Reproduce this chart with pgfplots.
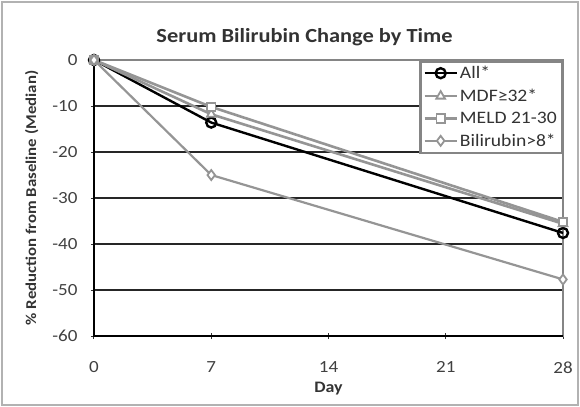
\documentclass[border=0pt]{standalone}
\usepackage{pgfplots}
\pgfplotsset{compat=1.18}
\usepackage{graphicx}
\usepackage{fontspec}
\setmainfont{Carlito}
\definecolor{sgray}{HTML}{959595}
\definecolor{fgray}{HTML}{858585}
\newcommand{\sx}[1]{\scalebox{1.12}[1]{#1}}
\begin{document}
\begin{tikzpicture}[x=1bp,y=1bp]
\useasboundingbox (-94bp,-71bp) rectangle (486bp,336bp);
\draw[line width=1.5bp, color=black!30] (-92bp,-69bp) rectangle (484bp,334bp);
\begin{axis}[
  at={(0,0)}, anchor=south west,
  scale only axis, width=469bp, height=276bp,
  xmin=0, xmax=28, ymin=-60, ymax=0,
  xtick={0,7,14,21,28}, ytick={-60,-50,...,0},
  axis line style={fgray, line width=2bp},
  ymajorgrids, grid style={black!85, line width=1.3bp},
  tick style={black!80, line width=1bp},
  tick align=center, major tick length=6bp,
  xtick pos=bottom, ytick pos=left,
  /pgf/number format/assume math mode=true,
  xticklabel={\sx{\pgfmathprintnumber{\tick}}},
  yticklabel={\sx{\pgfmathprintnumber{\tick}}},
  ticklabel style={font=\fontsize{17bp}{19bp}\selectfont, text=black!75},
  xticklabel style={yshift=-19bp},
  yticklabel style={xshift=-10bp},
  title={\sx{\textbf{Serum Bilirubin Change by Time}}},
  title style={font=\fontsize{20bp}{22bp}\selectfont, text=black!80, yshift=5bp, xshift=-24bp},
  xlabel={\sx{\textbf{Day}}}, ylabel={\sx{\textbf{\% Reduction from Baseline (Median)}}},
  xlabel style={font=\fontsize{16bp}{18bp}\selectfont, text=black!80, yshift=-2bp},
  ylabel style={font=\fontsize{15bp}{17bp}\selectfont, text=black!80, yshift=7bp},
  legend style={at={(1,1)}, anchor=north east, draw=fgray, line width=2.5bp,
    font=\fontsize{17.5bp}{19bp}\selectfont, row sep=5bp, inner xsep=3bp, inner ysep=3bp, text=black!80},
  legend cell align=left,
  legend image code/.code={
    \draw[mark repeat=2,mark phase=2] plot coordinates {(0bp,0bp) (16bp,0bp) (32bp,0bp)};},
  clip=false,
]
\addplot[black, line width=2.4bp, mark=o, mark size=5bp, mark options={fill=white, line width=2.4bp}]
  coordinates {(0,0) (7,-13.6) (28,-37.6)};
\addlegendentry{\sx{All*}}
\addplot[sgray, line width=2.6bp, mark=triangle*, mark size=5bp, mark options={fill=white, line width=1.8bp}]
  coordinates {(0,0) (7,-11.8) (28,-35.6)};
\addlegendentry{\sx{MDF≥32*}}
\addplot[sgray, line width=2.6bp, mark=square*, mark size=4.2bp, mark options={fill=white, line width=1.8bp}]
  coordinates {(0,0) (7,-10.2) (28,-35.2)};
\addlegendentry{\sx{MELD 21-30}}
\addplot[sgray, line width=2.2bp, mark=diamond*, mark size=5bp, mark options={fill=white, line width=1.8bp}]
  coordinates {(0,0) (7,-25.0) (28,-47.7)};
\addlegendentry{\sx{Bilirubin>8*}}
\draw[black, line width=2.4bp] (rel axis cs:0,1) -- (rel axis cs:0,0) -- (rel axis cs:1,0);
\end{axis}
\end{tikzpicture}
\end{document}
